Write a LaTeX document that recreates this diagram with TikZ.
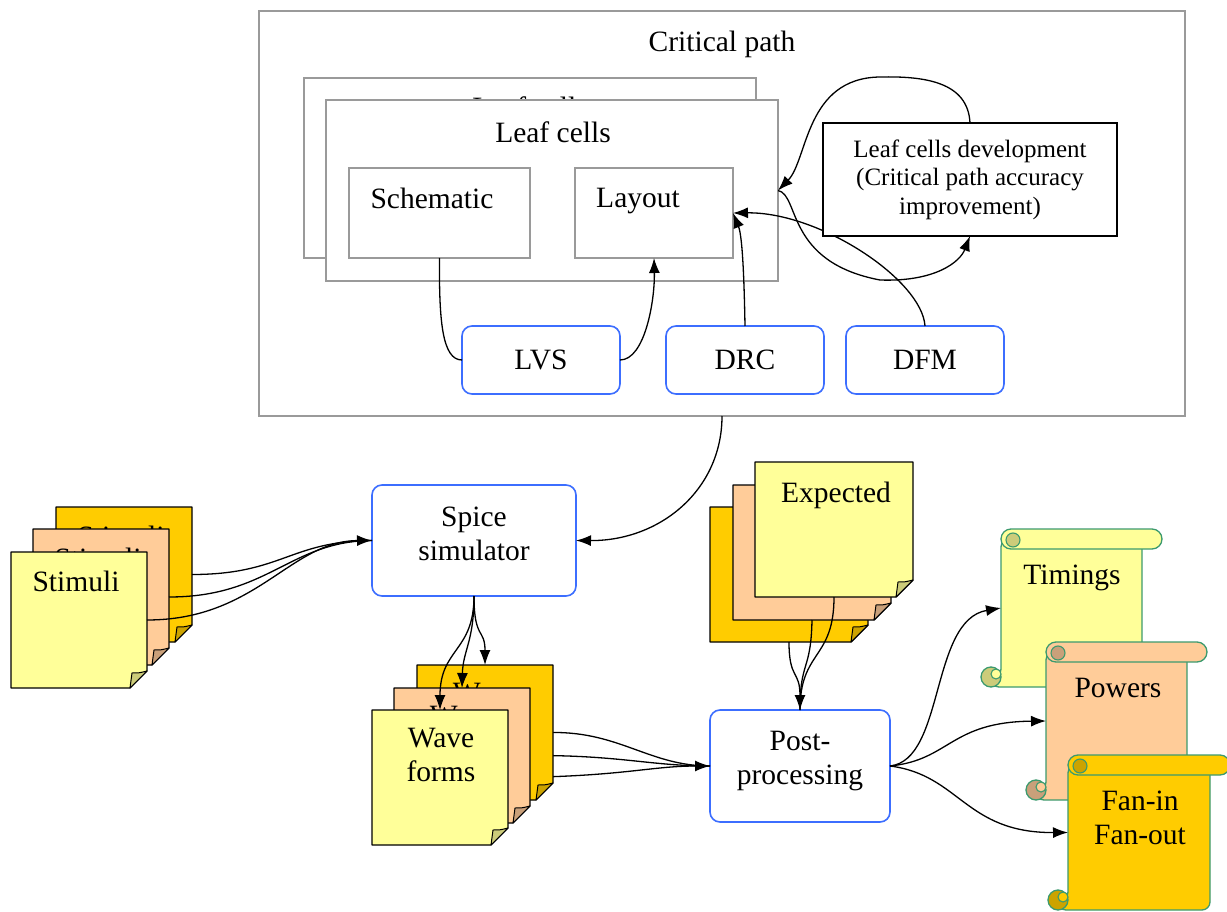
\documentclass[tikz,border=0pt]{standalone}
\usepackage{fontspec}
\setmainfont{Liberation Serif}
\usetikzlibrary{arrows.meta,calc}
\definecolor{lyel}{HTML}{FFFF99}
\definecolor{lyeldk}{HTML}{CCCC7A}
\definecolor{peach}{HTML}{FFCC99}
\definecolor{peachdk}{HTML}{C9A07A}
\definecolor{gold}{HTML}{FFCC00}
\definecolor{golddk}{HTML}{CCA300}
\definecolor{gboard}{HTML}{9A9A9A}
\definecolor{bblue}{HTML}{3C6EFF}
\definecolor{sgreen}{HTML}{3C9A6E}
% note page with folded corner: name, x, y, w, h, fill, fold colour
\newcommand\notepage[7]{%
  \node[minimum width=#4pt, minimum height=#5pt, anchor=north west] (#1) at (#2,#3) {};
  \filldraw[fill=#6, draw=black, line width=1.4pt, line join=round]
    (#1.north west) -- (#1.north east) -- ([yshift=17pt]#1.south east)
    -- ([xshift=-17pt]#1.south east) -- (#1.south west) -- cycle;
  \filldraw[fill=#7, draw=black, line width=1pt, line join=round]
    ([xshift=-17pt]#1.south east) .. controls ([xshift=-16pt,yshift=8pt]#1.south east) ..
    ([xshift=-15pt,yshift=15pt]#1.south east) .. controls ([xshift=-8pt,yshift=15pt]#1.south east) ..
    ([yshift=17pt]#1.south east) -- cycle;
}
% vertical scroll: name, x, y, body width, height, fill, curl colour
\newcommand\scrollpaper[7]{%
  \node[minimum width=#4pt, minimum height=#5pt, anchor=north west] (#1) at (#2,#3) {};
  \filldraw[fill=#6, draw=sgreen, line width=1.3pt, rounded corners=8pt]
    ($(#1.north west)+(0,10)$) -- ($(#1.north east)+(0,10)$) -- (#1.south east)
    -- ($(#1.south west)+(-10,0)$) -- ($(#1.south west)+(-10,-10)$)
    -- ($(#1.south west)+(0,-10)$) -- cycle;
  \filldraw[fill=#6, draw=sgreen, line width=1.3pt, rounded corners=10pt]
    (#1.north west) rectangle ($(#1.north east)+(20,20)$);
  \filldraw[fill=#7, draw=sgreen, line width=1.1pt] ($(#1.north west)+(12,11)$) circle (7pt);
  \filldraw[fill=#7, draw=sgreen, line width=1.3pt] ($(#1.south west)+(-10,-10)$) circle (10pt);
  \filldraw[fill=#6, draw=sgreen, line width=1.1pt] ($(#1.south west)+(-5,-13)$) circle (5pt);
}
\begin{document}
\begin{tikzpicture}[x=1pt,y=-1pt,
  every node/.style={inner sep=0pt,outer sep=0pt},
  txt/.style={font=\fontsize{29.5}{34}\selectfont, align=center},
  small/.style={font=\fontsize{25}{28.5}\selectfont, align=center},
  graybox/.style={draw=gboard, line width=1.6pt, fill=white},
  bluebox/.style={draw=bblue, line width=1.6pt, rounded corners=10pt, fill=white},
  conn/.style={line width=1.3pt},
  arr/.style={conn, -{Latex[length=15pt,width=11pt]}},
]
\useasboundingbox (0,0) rectangle (1227,912);

% ---------- critical path block ----------
\node[graybox, minimum width=926pt, minimum height=405pt] (crit) at (722,213.5) {};
\node[txt] (critt) at (722,44) {Critical path};
\node[graybox, minimum width=452pt, minimum height=180pt] (leafb) at (530,168) {};
\node[txt] (leafbt) at (530,107) {Leaf cells};
\node[graybox, minimum width=452pt, minimum height=181pt] (leaf) at (552,190.5) {};
\node[txt] (leaft) at (553,132) {Leaf cells};
\node[graybox, minimum width=181pt, minimum height=90pt] (sch) at (439.5,213) {};
\node[txt] (scht) at (432,198) {Schematic};
\node[graybox, minimum width=158pt, minimum height=90pt] (lay) at (654,213) {};
\node[txt] (layt) at (638,201) {Layout};
\node[bluebox, txt, minimum width=158pt, minimum height=68pt] (lvs) at (541,360) {LVS};
\node[bluebox, txt, minimum width=158pt, minimum height=68pt] (drc) at (745,360) {DRC};
\node[bluebox, txt, minimum width=158pt, minimum height=68pt] (dfm) at (925,360) {DFM};

\draw[arr] (dfm.north) .. controls (922,280) and (820,212) .. (lay.east);

\node[draw=black, line width=1.3pt, fill=white, small, minimum width=294pt, minimum height=113pt]
  (dev) at (970,179.5) {Leaf cells development\\(Critical path accuracy\\improvement)};

\draw[conn] (sch.south) .. controls (439,320) and (442,360) .. (lvs.west);
\draw[arr] (lvs.east) .. controls (645,360) and (655,300) .. (lay.south);
\draw[arr] (drc.north) .. controls (744,270) and (742,235) .. (lay.east);
\draw[arr] (dev.north) .. controls (968,82) and (925,76) .. (880,77)
  .. controls (805,78) and (808,160) .. (leaf.east);
\draw[arr] (leaf.east) .. controls (800,195) and (785,262) .. (880,280)
  .. controls (935,282) and (960,262) .. (dev.south);

% ---------- spice ----------
\node[bluebox, minimum width=204pt, minimum height=111pt] (spice) at (474,540.5) {};
\node[txt] (spicet) at (474,534) {Spice\\simulator};
\draw[arr] (crit.south) .. controls (722,490) and (660,541) .. (spice.east);

% ---------- stimuli ----------
\notepage{st3}{56}{507}{136}{135}{gold}{golddk}
\node[txt] (st3t) at ($(st3.north)+(-3,29)$) {Stimuli};
\notepage{st2}{33}{529}{136}{136}{peach}{peachdk}
\node[txt] (st2t) at ($(st2.north)+(-3,29)$) {Stimuli};
\notepage{st1}{11}{552}{136}{136}{lyel}{lyeldk}
\node[txt] (st1t) at ($(st1.north)+(-3,29)$) {Stimuli};
\draw[conn] (st3.east) .. controls +(90,0) and (290,541) .. (spice.west);
\draw[conn] (st2.east) .. controls +(100,0) and (290,541) .. (spice.west);
\draw[arr] (st1.east) .. controls +(110,0) and (290,541) .. (spice.west);

% ---------- post-processing ----------
\node[bluebox, minimum width=180pt, minimum height=112pt] (post) at (800,766) {};
\node[txt] (postt) at (800,761) {Post-\\processing};

% ---------- wave forms ----------
\node[minimum width=136pt, minimum height=135pt, anchor=north west] (w3p) at (417,665) {};
\node[minimum width=136pt, minimum height=135pt, anchor=north west] (w2p) at (394,688) {};
\node[minimum width=136pt, minimum height=135pt, anchor=north west] (w1p) at (372,710) {};
\draw[conn] (w3p.east) .. controls (620,732) and (650,766) .. (post.west);
\draw[conn] (w2p.east) .. controls (620,755) and (650,766) .. (post.west);
\draw[arr] (w1p.east) .. controls (620,777) and (650,766) .. (post.west);
\notepage{w3}{417}{665}{136}{135}{gold}{golddk}
\node[txt] (w3t) at ($(w3.north)+(1,45)$) {Wave\\forms};
\notepage{w2}{394}{688}{136}{135}{peach}{peachdk}
\node[txt] (w2t) at ($(w2.north)+(1,45)$) {Wave\\forms};
\notepage{w1}{372}{710}{136}{135}{lyel}{lyeldk}
\node[txt] (w1t) at ($(w1.north)+(1,45)$) {Wave\\forms};
\draw[arr] (spice.south) .. controls (474,640) and (485,628) .. (w3.north);
\draw[arr] (spice.south) .. controls (474,642) and (463,650) .. (w2.north);
\draw[arr] (spice.south) .. controls (474,652) and (440,648) .. (w1.north);

% ---------- expected ----------
\notepage{e3}{710}{507}{158}{135}{gold}{golddk}
\notepage{e2}{733}{485}{158}{135}{peach}{peachdk}
\notepage{e1}{755}{462}{158}{135}{lyel}{lyeldk}
\node[txt] (e1t) at ($(e1.north)+(2,33.5)$) {Expected};
\draw[conn] (e1.south) .. controls (834,660) and (800,650) .. (post.north);
\draw[conn] (e2.south) .. controls (811,672) and (800,660) .. (post.north);
\draw[arr] (e3.south) .. controls (789,680) and (800,670) .. (post.north);

% ---------- scrolls ----------
\scrollpaper{tm}{1001}{529}{141}{158}{lyel}{lyeldk}
\node[txt] (tmt) at ($(tm.north)+(0.5,49)$) {Timings};
\scrollpaper{pw}{1046}{642}{141}{158}{peach}{peachdk}
\node[txt] (pwt) at ($(pw.north)+(1.5,46)$) {Powers};
\scrollpaper{fi}{1068}{755}{142}{155}{gold}{golddk}
\node[txt] (fit) at ($(fi.north)+(1,62.5)$) {Fan-in\\Fan-out};
\draw[arr] (post.east) .. controls (945,760) and (930,620) .. (tm.west);
\draw[arr] (post.east) .. controls (950,760) and (950,722) .. (pw.west);
\draw[arr] (post.east) .. controls (960,775) and (965,833) .. (fi.west);
\end{tikzpicture}
\end{document}
